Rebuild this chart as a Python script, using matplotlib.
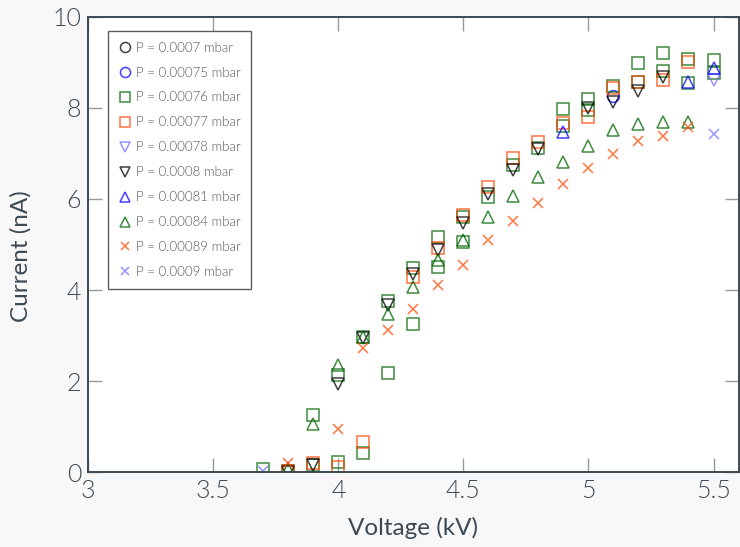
import matplotlib
matplotlib.use("Agg")
import matplotlib.pyplot as plt

# series data (voltage in kV, current in nA)
labels = ["P = 0.0007 mbar", "P = 0.00075 mbar", "P = 0.00076 mbar", "P = 0.00077 mbar",
          "P = 0.00078 mbar", "P = 0.0008 mbar", "P = 0.00081 mbar", "P = 0.00084 mbar",
          "P = 0.00089 mbar", "P = 0.0009 mbar"]

v_0007 = []
i_0007 = []

v_00075 = [5.1]
i_00075 = [8.26]

v_00076 = [3.7, 3.8, 3.9, 3.9, 4.0, 4.0, 4.1, 4.1, 4.2, 4.2, 4.3, 4.3, 4.4, 4.4, 4.5, 4.5,
           4.6, 4.7, 4.8, 4.9, 4.9, 5.0, 5.0, 5.1, 5.2, 5.2, 5.3, 5.3, 5.4, 5.4, 5.5, 5.5]
i_00076 = [0.06, 0.03, 1.25, 0.15, 2.13, 0.22, 2.97, 0.42, 3.76, 2.17, 4.48, 3.25, 5.16, 4.51, 5.6, 5.05,
           6.05, 6.75, 7.12, 7.98, 7.6, 8.2, 7.95, 8.48, 8.99, 8.57, 9.21, 8.81, 9.08, 8.55, 9.06, 8.77]

v_00077 = [3.8, 3.9, 4.0, 4.1, 4.3, 4.4, 4.5, 4.6, 4.7, 4.8, 4.9, 5.0, 5.1, 5.2, 5.3, 5.4]
i_00077 = [0.03, 0.2, 0.12, 0.66, 4.29, 4.92, 5.65, 6.27, 6.9, 7.25, 7.67, 7.8, 8.44, 8.57, 8.62, 9.01]

v_00078 = [5.5]
i_00078 = [8.62]

v_0008 = [3.8, 3.9, 4.0, 4.1, 4.2, 4.3, 4.4, 4.5, 4.6, 4.7, 4.8, 5.0, 5.1, 5.2, 5.3]
i_0008 = [0.0, 0.15, 1.93, 2.94, 3.67, 4.35, 4.88, 5.47, 6.1, 6.64, 7.1, 8.0, 8.13, 8.37, 8.68]

v_00081 = [4.9, 5.4, 5.5]
i_00081 = [7.47, 8.57, 8.88]

v_00084 = [3.8, 3.9, 4.0, 4.1, 4.2, 4.3, 4.4, 4.5, 4.6, 4.7, 4.8, 4.9, 5.0, 5.1, 5.2, 5.3, 5.4]
i_00084 = [0.06, 1.05, 2.35, 2.97, 3.47, 4.07, 4.66, 5.1, 5.61, 6.07, 6.48, 6.81, 7.16, 7.52, 7.65, 7.69, 7.69]

v_00089 = [3.8, 4.0, 4.1, 4.2, 4.3, 4.4, 4.5, 4.6, 4.7, 4.8, 4.9, 5.0, 5.1, 5.2, 5.3, 5.4]
i_00089 = [0.2, 0.95, 2.73, 3.12, 3.58, 4.11, 4.55, 5.1, 5.52, 5.91, 6.33, 6.68, 6.99, 7.27, 7.39, 7.58]

v_0009 = [3.7, 5.5]
i_0009 = [0.02, 7.43]

series = [
    (v_0007, i_0007, "o", "black", 8.5),
    (v_00075, i_00075, "o", "blue", 8.5),
    (v_00076, i_00076, "s", "darkgreen", 8.5),
    (v_00077, i_00077, "s", "orangered", 8.5),
    (v_00078, i_00078, "v", "#7070ff", 8),
    (v_0008, i_0008, "v", "black", 8),
    (v_00081, i_00081, "^", "blue", 8),
    (v_00084, i_00084, "^", "darkgreen", 8),
    (v_00089, i_00089, "x", "orangered", 7),
    (v_0009, i_0009, "x", "#7070ff", 7),
]

text_col = "#3b4a55"
plt.rcParams["font.family"] = ["Lato", "DejaVu Sans"]
plt.rcParams["font.weight"] = 300

fig = plt.figure(figsize=(7.4, 5.47), dpi=100, facecolor="#f8f8f8")
ax = fig.add_axes([0.119, 0.137, 0.879, 0.832])
ax.set_facecolor("white")

for (x, y, m, c, ms), lab in zip(series, labels):
    ax.plot(x, y, linestyle="none", marker=m, markersize=ms, markerfacecolor="none",
            markeredgecolor=c, markeredgewidth=1.1, alpha=0.75, label=lab)

ax.set_xlim(3, 5.6)
ax.set_ylim(0, 10)
ax.set_xticks([3, 3.5, 4, 4.5, 5, 5.5])
ax.set_xticklabels(["3", "3.5", "4", "4.5", "5", "5.5"])
ax.set_yticks([0, 2, 4, 6, 8, 10])

ax.tick_params(direction="in", length=10, width=1, color="#999999", top=True, right=True,
               labelsize=18, labelcolor=text_col, pad=5)
for s in ax.spines.values():
    s.set_color(text_col)
    s.set_linewidth(1.4)

ax.set_xlabel("Voltage (kV)", fontsize=17.5, color=text_col, labelpad=10)
ax.set_ylabel("Current (nA)", fontsize=17.5, color=text_col)
ax.yaxis.set_label_coords(-0.087, 0.475)

leg = ax.legend(loc="upper left", bbox_to_anchor=(0.031, 0.969), borderaxespad=0, fontsize=9.5,
                frameon=True, fancybox=False, edgecolor="#333333", labelspacing=0.98,
                handletextpad=0.3, handlelength=1.0, borderpad=0.8, markerscale=0.85)
leg.get_frame().set_linewidth(1.0)
for t in leg.get_texts():
    t.set_color("#555555")

fig.savefig("out.png", dpi=100, facecolor=fig.get_facecolor())
